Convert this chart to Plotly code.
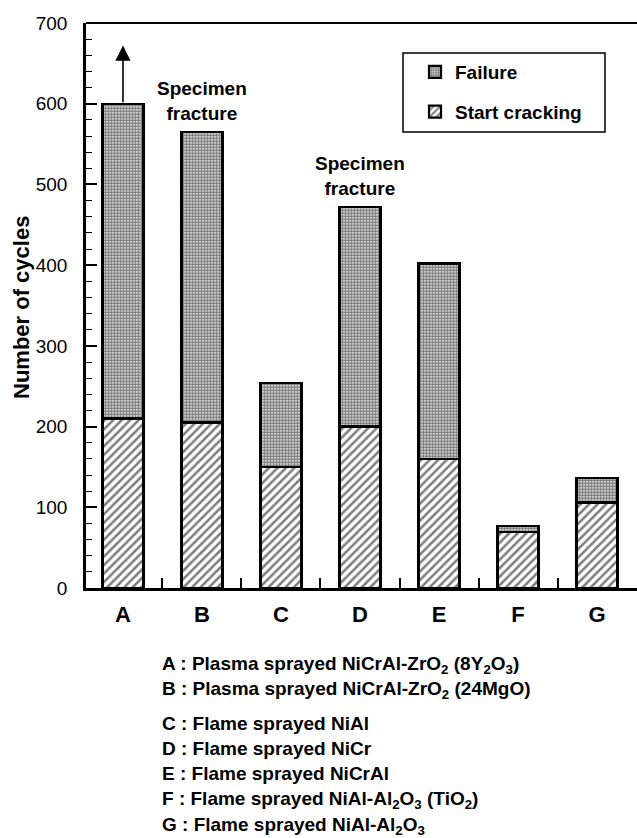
import plotly.graph_objects as go

# ---- data ----
categories = ["A", "B", "C", "D", "E", "F", "G"]
start_cracking = [210, 205, 150, 200, 160, 69, 106]
failure_total = [600, 565, 254, 472, 402, 77, 136]
failure_extra = [t - s for t, s in zip(failure_total, start_cracking)]
fracture_specimens = ["B", "D"]
arrow_category = "A"
arrow_tip = 672
y_ticks = [0, 100, 200, 300, 400, 500, 600, 700]
descriptions = [
    "A : Plasma sprayed NiCrAl-ZrO<sub>2</sub> (8Y<sub>2</sub>O<sub>3</sub>)",
    "B : Plasma sprayed NiCrAl-ZrO<sub>2</sub> (24MgO)",
    "C : Flame sprayed NiAl",
    "D : Flame sprayed NiCr",
    "E : Flame sprayed NiCrAl",
    "F : Flame sprayed NiAl-Al<sub>2</sub>O<sub>3</sub> (TiO<sub>2</sub>)",
    "G : Flame sprayed NiAl-Al<sub>2</sub>O<sub>3</sub>",
]

FONT = "Liberation Sans, Arial, Helvetica, sans-serif"
W, H = 637, 838
ML, MR, MT, MB = 86, 0, 23, 250
PW, PH = W - ML - MR, H - MT - MB


def px_x(px):
    return (px - ML) / PW


def px_y(py):
    return (H - MB - py) / PH


fig = go.Figure()
fig.add_trace(go.Bar(
    x=categories, y=start_cracking, name="Start cracking",
    legendgroup="s", legendrank=2, width=0.52,
    marker=dict(color="white", line=dict(color="black", width=2.2),
                pattern=dict(shape="/", fgcolor="black", bgcolor="white",
                             size=6, solidity=0.42)),
))
fig.add_trace(go.Bar(
    x=categories, y=failure_extra, name="Failure",
    legendgroup="f", legendrank=1, width=0.52,
    marker=dict(color="white", line=dict(color="black", width=2.2),
                pattern=dict(shape=".", fgcolor="black", bgcolor="white",
                             size=3, solidity=0.75)),
))

annotations = []
# arrow on bar A
annotations.append(dict(
    x=arrow_category, y=arrow_tip, xref="x", yref="y",
    ax=arrow_category, ay=failure_total[categories.index(arrow_category)],
    axref="x", ayref="y", text="", showarrow=True,
    arrowhead=2, arrowsize=1.9, arrowwidth=1.6, arrowcolor="black", standoff=0,
))
for c in fracture_specimens:
    annotations.append(dict(
        x=c, y=failure_total[categories.index(c)], xref="x", yref="y",
        text="Specimen<br>fracture", showarrow=False, yanchor="bottom",
        yshift=6, font=dict(family=FONT, size=19, color="black", weight="bold"),
    ))
# y title
annotations.append(dict(
    x=px_x(21), y=px_y(308), xref="paper", yref="paper",
    text="Number of cycles", textangle=-90, showarrow=False,
    xanchor="center", yanchor="middle",
    font=dict(family=FONT, size=22, color="black", weight="bold"),
))
desc_y = [665, 690, 723, 748, 773, 800, 826]
for txt, yy in zip(descriptions, desc_y):
    annotations.append(dict(
        x=px_x(160), y=px_y(yy), xref="paper", yref="paper",
        text=txt, showarrow=False, xanchor="left", yanchor="middle",
        font=dict(family=FONT, size=19, color="black", weight="bold"),
    ))

shapes = [
    # top frame line
    dict(type="line", xref="paper", yref="paper", x0=0, x1=1, y0=1, y1=1,
         line=dict(color="black", width=2)),
    # legend box
    dict(type="rect", xref="paper", yref="paper",
         x0=px_x(403), x1=px_x(605), y0=px_y(132), y1=px_y(53),
         line=dict(color="black", width=1.5), fillcolor="rgba(0,0,0,0)"),
]

fig.update_layout(
    width=W, height=H,
    margin=dict(l=ML, r=MR, t=MT, b=MB, pad=0),
    paper_bgcolor="white", plot_bgcolor="white",
    barmode="stack",
    font=dict(family=FONT, color="black"),
    showlegend=True,
    legend=dict(
        x=px_x(415), y=px_y(53), xanchor="left", yanchor="top",
        bgcolor="rgba(0,0,0,0)", borderwidth=0,
        traceorder="grouped", tracegroupgap=12,
        font=dict(family=FONT, size=19, color="black", weight="bold"),
    ),
    xaxis=dict(
        type="category", categoryorder="array", categoryarray=categories,
        range=[-0.468, 6.506], showline=True, linecolor="black", linewidth=2.5,
        ticks="inside", tickson="boundaries", ticklen=10, tickwidth=1.5,
        tickcolor="black", showgrid=False, zeroline=False,
        tickfont=dict(family=FONT, size=22, color="black", weight="bold"),
        ticklabelstandoff=5,
    ),
    yaxis=dict(
        range=[0, 700], tickvals=y_ticks, showline=True, linecolor="black",
        linewidth=2.5, ticks="inside", ticklen=11, tickwidth=1.5,
        tickcolor="black", showgrid=False, zeroline=False,
        minor=dict(dtick=20, ticks="inside", ticklen=6, tickwidth=1.2,
                   tickcolor="black", showgrid=False),
        tickfont=dict(family=FONT, size=19, color="black"),
        ticklabelstandoff=12,
    ),
    annotations=annotations,
    shapes=shapes,
)

fig.write_html("out.html")
